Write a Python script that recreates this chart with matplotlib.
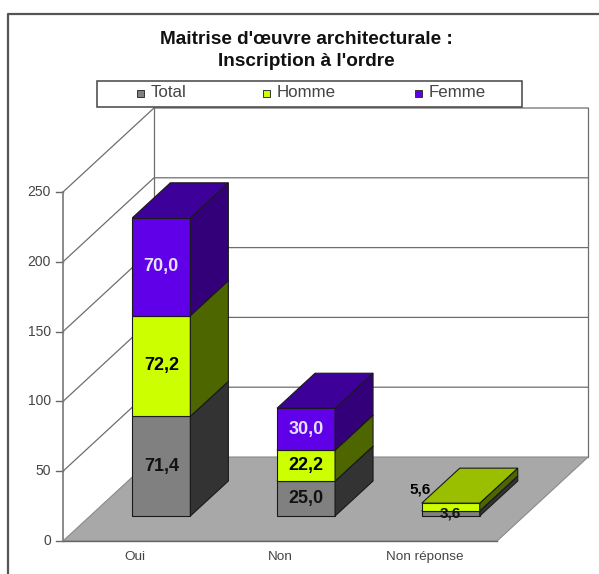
import matplotlib
matplotlib.use("Agg")
import matplotlib.pyplot as plt
from matplotlib.patches import Polygon, Rectangle

plt.rcParams['font.family'] = ['Liberation Sans', 'DejaVu Sans']

categories = ["Oui", "Non", "Non réponse"]
series_names = ["Total", "Homme", "Femme"]
total = [71.4, 25.0, 3.6]
homme = [72.2, 22.2, 5.6]
femme = [70.0, 30.0, 0.0]
y_ticks = [0, 50, 100, 150, 200, 250]

front_colors = ["#808080", "#ccff00", "#6000e8"]
side_colors = ["#333333", "#4d6600", "#33007a"]
top_colors = ["#666666", "#99bf00", "#3d0099"]
text_colors = ["#111111", "#000000", "#e4e0ff"]

# pixel geometry of the fake 3d chart
X0, Y0 = 63, 541
CAT_W = 144.7
PX_PER_UNIT = 1.396
DEPTH_X, DEPTH_Y = 91, -84
BAR_W = 58
BAR_OFF_X, BAR_OFF_Y = 26, -25
BAR_DX, BAR_DY = 38, -35


def val_y(v):
    return Y0 - v * PX_PER_UNIT


def face(ax, pts, color, edge="#1a1a1a", lw=0.8, z=3):
    ax.add_patch(Polygon(pts, closed=True, facecolor=color, edgecolor=edge, linewidth=lw, zorder=z))


fig = plt.figure(figsize=(5.99, 5.74), dpi=100)
ax = fig.add_axes([0, 0, 1, 1])
ax.set_xlim(0, 599)
ax.set_ylim(574, 0)
ax.axis("off")

# outer frame
ax.plot([8, 8, 599], [574, 14, 14], color="#555555", lw=1.6, zorder=1)

n = len(categories)
x_right = X0 + n * CAT_W
top = y_ticks[-1]

# walls and floor
wall_col = "#6e6e6e"
ax.plot([X0 + DEPTH_X, X0 + DEPTH_X], [val_y(0) + DEPTH_Y, val_y(top) + DEPTH_Y], color=wall_col, lw=0.9, zorder=1)
ax.plot([x_right + DEPTH_X, x_right + DEPTH_X], [val_y(0) + DEPTH_Y, val_y(top) + DEPTH_Y], color=wall_col, lw=0.9, zorder=1)
face(ax, [(X0, Y0), (x_right, Y0), (x_right + DEPTH_X, Y0 + DEPTH_Y), (X0 + DEPTH_X, Y0 + DEPTH_Y)],
     "#a8a8a8", edge="#8a8a8a", z=2)
ax.plot([X0, x_right], [Y0, Y0], color="#666666", lw=1.0, zorder=2)

# gridlines, left wall then back wall
for t in y_ticks:
    y = val_y(t)
    if t > 0:
        ax.plot([X0, X0 + DEPTH_X, x_right + DEPTH_X], [y, y + DEPTH_Y, y + DEPTH_Y], color=wall_col, lw=0.9, zorder=1)
    ax.plot([X0 - 7, X0], [y, y], color="#666666", lw=1.0, zorder=2)
    ax.text(X0 - 12, y, str(t), ha="right", va="center", fontsize=10, color="#444444")
ax.plot([X0, X0], [val_y(0), val_y(top)], color="#777777", lw=1.2, zorder=2)

# stacked bars
stacks = [total, homme, femme]
for i, cat in enumerate(categories):
    x1 = X0 + i * CAT_W + CAT_W / 2 + BAR_OFF_X - BAR_W / 2
    x2 = x1 + BAR_W
    base = 0
    for s, vals in enumerate(stacks):
        v = vals[i]
        if v == 0:
            continue
        y1 = val_y(base) + BAR_OFF_Y
        y2 = val_y(base + v) + BAR_OFF_Y
        face(ax, [(x1, y1), (x2, y1), (x2, y2), (x1, y2)], front_colors[s])
        face(ax, [(x2, y1), (x2 + BAR_DX, y1 + BAR_DY), (x2 + BAR_DX, y2 + BAR_DY), (x2, y2)], side_colors[s])
        face(ax, [(x1, y2), (x2, y2), (x2 + BAR_DX, y2 + BAR_DY), (x1 + BAR_DX, y2 + BAR_DY)], top_colors[s])
        label = f"{v:.1f}".replace(".", ",")
        lx, ly = (x1 + x2) / 2, (y1 + y2) / 2
        fs = 13
        if i == 2:
            fs = 11
            if s == 1:
                # excel pushed this one out to the left of the slab
                lx, ly = lx - 31, ly - 18
        ax.text(lx, ly, label, ha="center", va="center", fontsize=fs, fontweight="bold",
                color=text_colors[s], zorder=5)
        base += v
    ax.text(X0 + i * CAT_W + CAT_W / 2, 557, cat, ha="center", va="center", fontsize=9.7, color="#444444")

# title
ax.text(306, 40, "Maitrise d'œuvre architecturale :", ha="center", va="center", fontsize=13.7, fontweight="bold", color="#111111")
ax.text(306, 62, "Inscription à l'ordre", ha="center", va="center", fontsize=13.7, fontweight="bold", color="#111111")

# legend box
ax.add_patch(Rectangle((97, 81), 425, 26, facecolor="white", edgecolor="#444444", linewidth=1.1, zorder=4))
for name, mx, col in zip(series_names, [137, 263, 415], front_colors):
    ax.add_patch(Rectangle((mx, 90), 7, 7, facecolor=col, edgecolor="#333333", linewidth=0.7, zorder=5))
    ax.text(mx + 14, 92.7, name, ha="left", va="center", fontsize=12.2, color="#444444", zorder=5)

fig.savefig("out.png", dpi=100)
